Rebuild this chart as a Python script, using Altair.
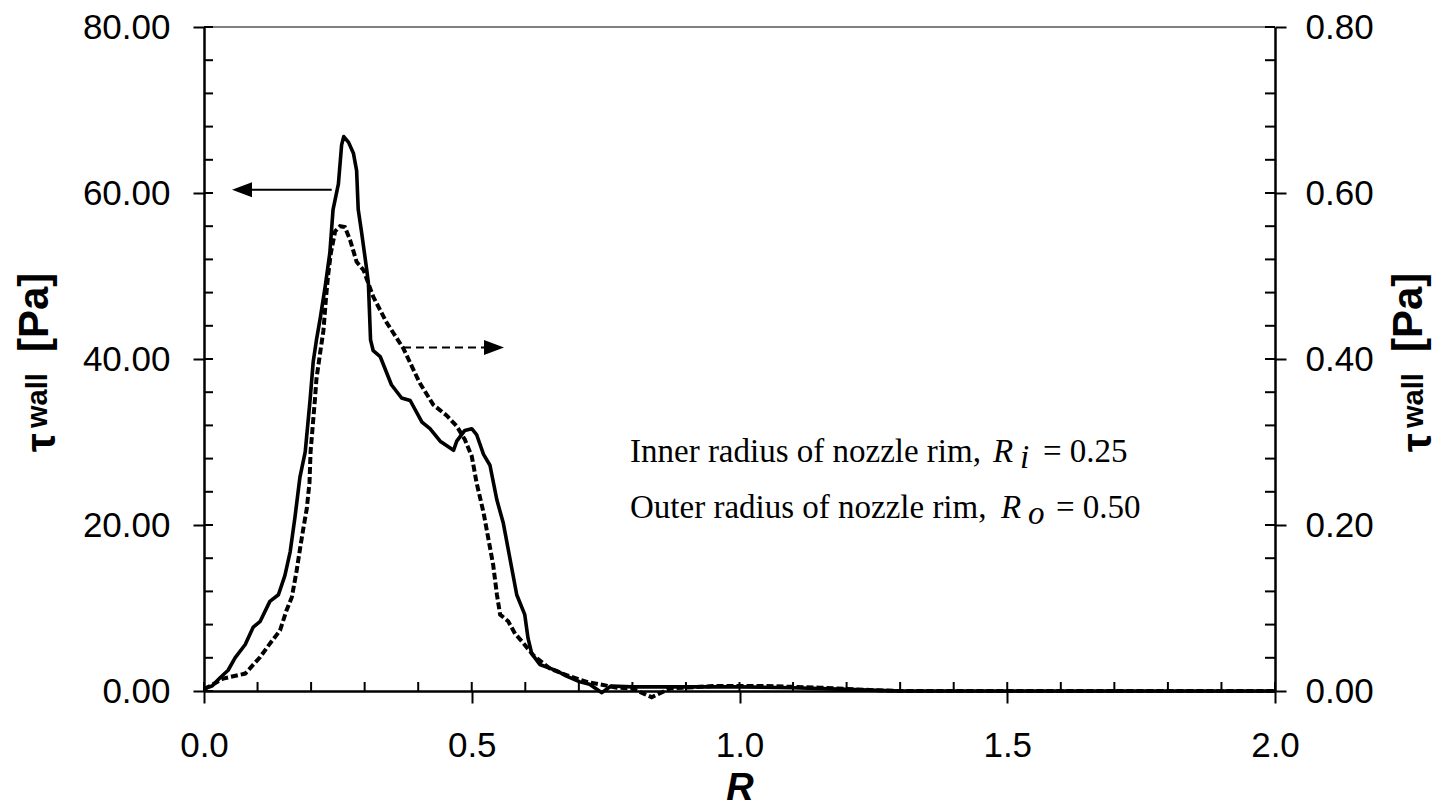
import altair as alt
import pandas as pd

# ---- data ----
R_solid = [0.0, 0.015, 0.030, 0.045, 0.058, 0.077, 0.092, 0.105, 0.123, 0.139, 0.151, 0.161, 0.170,
           0.179, 0.189, 0.198, 0.204, 0.210, 0.217, 0.226, 0.235, 0.241, 0.251, 0.257, 0.261, 0.270,
           0.279, 0.285, 0.288, 0.294, 0.304, 0.307, 0.311, 0.316, 0.329, 0.350, 0.369, 0.385, 0.407,
           0.422, 0.441, 0.466, 0.472, 0.487, 0.500, 0.509, 0.522, 0.534, 0.547, 0.559, 0.584, 0.599,
           0.605, 0.612, 0.627, 0.658, 0.677, 0.702, 0.720, 0.743, 0.760, 0.800, 0.850, 0.900, 1.000,
           1.100, 1.200, 1.300, 1.500, 2.000]
tau_solid = [0.3, 0.6, 1.6, 2.5, 4.0, 5.6, 7.7, 8.4, 10.8, 11.6, 13.9, 16.8, 21.0,
             25.7, 28.8, 35.0, 39.7, 42.3, 44.9, 48.6, 52.8, 58.0, 61.1, 65.8, 66.8, 66.1,
             64.8, 62.7, 58.0, 55.4, 50.7, 49.1, 42.3, 41.0, 40.3, 36.9, 35.3, 35.0, 32.4,
             31.6, 30.1, 29.0, 30.1, 31.4, 31.6, 30.9, 28.5, 27.2, 23.0, 20.2, 11.6, 9.2,
             6.4, 4.5, 3.2, 2.45, 1.8, 1.1, 0.8, -0.2, 0.6, 0.5, 0.5, 0.5, 0.5,
             0.4, 0.2, 0.0, 0.0, 0.0]

R_dash = [0.0, 0.036, 0.077, 0.105, 0.123, 0.142, 0.154, 0.164, 0.173, 0.179, 0.185, 0.192, 0.197,
          0.199, 0.203, 0.207, 0.210, 0.217, 0.223, 0.228, 0.232, 0.237, 0.245, 0.254, 0.263, 0.273,
          0.285, 0.298, 0.316, 0.341, 0.372, 0.403, 0.428, 0.453, 0.472, 0.487, 0.500, 0.509, 0.522,
          0.534, 0.540, 0.547, 0.553, 0.568, 0.581, 0.596, 0.615, 0.646, 0.677, 0.715, 0.771, 0.800,
          0.836, 0.870, 0.950, 1.050, 1.150, 1.250, 1.300, 1.500, 2.000]
tau_dash = [0.002, 0.015, 0.021, 0.041, 0.057, 0.073, 0.097, 0.113, 0.145, 0.170, 0.194, 0.220, 0.251,
            0.288, 0.319, 0.350, 0.376, 0.408, 0.434, 0.475, 0.502, 0.528, 0.554, 0.560, 0.559, 0.543,
            0.517, 0.507, 0.475, 0.444, 0.413, 0.371, 0.345, 0.332, 0.319, 0.303, 0.283, 0.251, 0.215,
            0.173, 0.152, 0.116, 0.092, 0.084, 0.069, 0.058, 0.043, 0.027, 0.019, 0.011, 0.004, 0.003,
            -0.0075, 0.003, 0.006, 0.006, 0.004, 0.001, 0.0, 0.0, 0.0]

x_major = [0.0, 0.5, 1.0, 1.5, 2.0]
x_ticks = [0.0, 0.1, 0.2, 0.3, 0.4, 0.5, 0.6, 0.7, 0.8, 0.9, 1.0, 1.1, 1.2, 1.3, 1.4, 1.5, 1.6, 1.7, 1.8, 1.9, 2.0]
yl_major = [0, 20, 40, 60, 80]
yl_ticks = [0, 4, 8, 12, 16, 20, 24, 28, 32, 36, 40, 44, 48, 52, 56, 60, 64, 68, 72, 76, 80]
yr_major = [0.0, 0.2, 0.4, 0.6, 0.8]
yr_ticks = [0.0, 0.04, 0.08, 0.12, 0.16, 0.2, 0.24, 0.28, 0.32, 0.36, 0.4, 0.44, 0.48, 0.52, 0.56,
            0.6, 0.64, 0.68, 0.72, 0.76, 0.8]

# arrows (data units): left-pointing solid arrow, right-pointing dashed arrow
arrow_left = {"R": [0.085], "R2": [0.2385], "v": [60.4], "head": [0.071]}
arrow_right = {"R": [0.3716], "R2": [0.528], "v2": [0.414], "head": [0.5416]}

W, H = 1071, 664
SANS = "Liberation Sans"
SERIF = "Liberation Serif"

df_s = pd.DataFrame({"R": R_solid, "v": tau_solid})
df_d = pd.DataFrame({"R": R_dash, "v2": tau_dash})
one = pd.DataFrame({"k": [0]})

xscale = alt.Scale(domain=[0, 2], nice=False, zero=False)
ylscale = alt.Scale(domain=[0, 80], nice=False)
yrscale = alt.Scale(domain=[0, 0.8], nice=False)

common_axis = dict(labelFont=SANS, labelFontSize=35, labelColor="black", tickColor="black",
                   tickWidth=2, domainColor="black", domainWidth=2.5, grid=False,
                   labelFlush=False, labelOverlap=False)

xaxis = alt.Axis(values=x_major, format=".1f", tickSize=12, labelPadding=25, title="R",
                 titleFont=SANS, titleFontSize=38, titleFontStyle="italic", titleFontWeight="bold",
                 titleColor="black", titlePadding=6, **common_axis)
ylaxis = alt.Axis(values=yl_major, format=".2f", orient="left", tickSize=11, labelPadding=23,
                  title="", **common_axis)
yraxis = alt.Axis(values=yr_major, format=".2f", orient="right", tickSize=11, labelPadding=19,
                  title="", **common_axis)

X = lambda f="R": alt.X(f"{f}:Q", scale=xscale, axis=xaxis)
YL = alt.Y("v:Q", scale=ylscale, axis=ylaxis)
YR = alt.Y("v2:Q", scale=yrscale, axis=yraxis)

def label(txt, px, py, size, font, weight="normal", style="normal", angle=0,
          align="left", baseline="alphabetic"):
    return alt.Chart(one).mark_text(text=txt, fontSize=size, font=font, fontWeight=weight,
                                    fontStyle=style, angle=angle, align=align, baseline=baseline,
                                    color="black").encode(x=alt.value(px), y=alt.value(py))

solid = alt.Chart(df_s).mark_line(color="black", strokeWidth=3.6, strokeJoin="round").encode(
    x=X(), y=YL)

dashed = alt.Chart(df_d).mark_line(color="black", strokeWidth=4, strokeDash=[7, 3]).encode(
    x=X(), y=YR)

# inward tick marks
xt = alt.Chart(pd.DataFrame({"R": x_ticks})).mark_rule(color="black", strokeWidth=2).encode(
    x=X(), y=alt.value(H - 9), y2=alt.value(H))
ylt = alt.Chart(pd.DataFrame({"v": yl_ticks})).mark_rule(color="black", strokeWidth=2).encode(
    y=YL, x=alt.value(0), x2=alt.value(9))
yrt = alt.Chart(pd.DataFrame({"v2": yr_ticks})).mark_rule(color="black", strokeWidth=2).encode(
    y=YR, x=alt.value(W - 10), x2=alt.value(W))
top = alt.Chart(one).mark_rule(color="#808080", strokeWidth=2).encode(
    y=alt.value(0), x=alt.value(0), x2=alt.value(W))

# arrows
al = pd.DataFrame(arrow_left)
ar = pd.DataFrame(arrow_right)
al_line = alt.Chart(al).mark_rule(color="black", strokeWidth=2).encode(
    x=X(), x2="R2:Q", y=YL)
al_head = alt.Chart(al).mark_point(shape="M-1,0L1,-0.75L1,0.75Z", filled=True, size=400,
                                   color="black", opacity=1, strokeWidth=0).encode(
    x=X("head"), y=YL)
ar_line = alt.Chart(ar).mark_rule(color="black", strokeWidth=2, strokeDash=[8, 5]).encode(
    x=X(), x2="R2:Q", y=YR)
ar_head = alt.Chart(ar).mark_point(shape="M1,0L-1,-0.75L-1,0.75Z", filled=True, size=400,
                                   color="black", opacity=1, strokeWidth=0).encode(
    x=X("head"), y=YR)

# annotation text
FS = 33
ann = [
    label("Inner radius of nozzle rim,", 426, 435, FS, SERIF),
    label("R", 789, 435, FS, SERIF, style="italic"),
    label("i", 816, 441, FS, SERIF, style="italic"),
    label("= 0.25", 839, 435, FS, SERIF),
    label("Outer radius of nozzle rim,", 426, 491, FS, SERIF),
    label("R", 797, 491, FS, SERIF, style="italic"),
    label("o", 824, 497, FS, SERIF, style="italic"),
    label("= 0.50", 852, 491, FS, SERIF),
]

# rotated axis titles built from pieces (τ, subscript "wall", [Pa])
def ytitle(bx):
    return [
        label("τ", bx[0], 425, 42, SANS, weight="bold", angle=270),
        label("wall", bx[1], 401, 29, SANS, weight="bold", angle=270),
        label("[Pa]", bx[2], 325, 42, SANS, weight="bold", angle=270),
    ]

left = alt.layer(top, xt, ylt, solid, al_line, al_head, *ann, *ytitle([-149, -157, -156]))
right = alt.layer(yrt, dashed, ar_line, ar_head, *ytitle([1227, 1219, 1218]))

chart = alt.layer(left, right).resolve_scale(y="independent").properties(
    width=W, height=H,
    autosize=alt.AutoSizeParams(type="none"),
    padding={"left": 204, "top": 27, "right": 167, "bottom": 118},
    background="white",
).configure_view(strokeWidth=0)

chart.save("out.html", embed_options={"renderer": "svg", "actions": False})
